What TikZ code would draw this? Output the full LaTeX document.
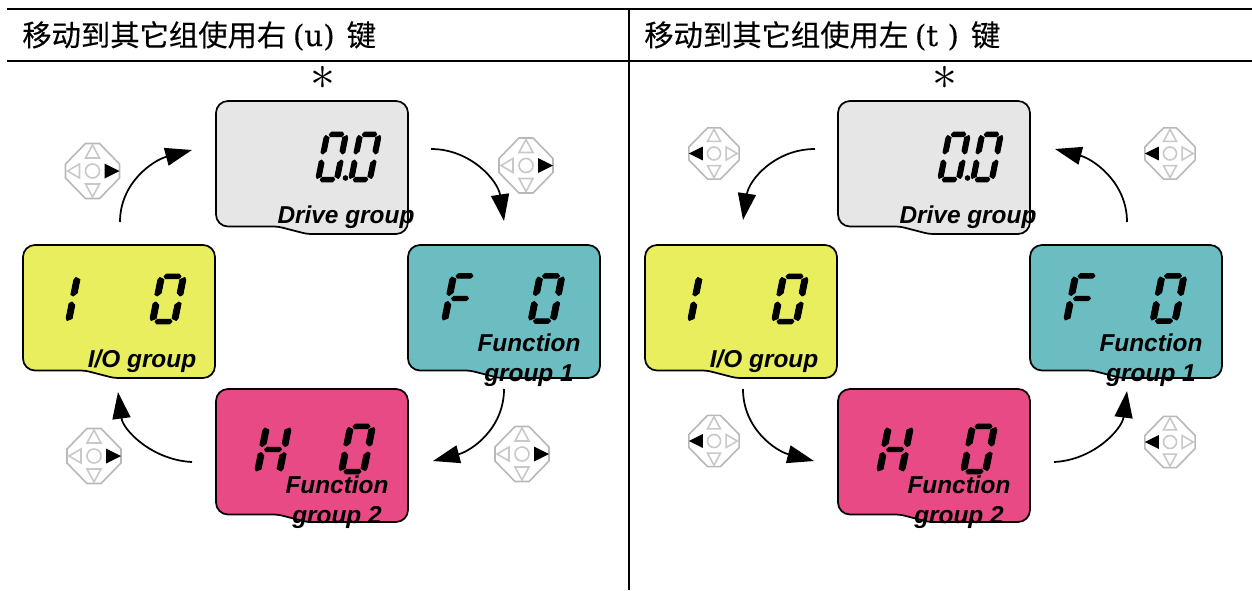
\documentclass[tikz,border=0pt]{standalone}
\usepackage{fontspec}
\usetikzlibrary{arrows.meta}
\setmainfont[FakeBold=0.3]{DejaVu Serif}
\newfontfamily\cjk[FakeBold=0.25]{Noto Sans CJK SC}
\newfontfamily\lab{Liberation Sans}
\definecolor{cDrive}{HTML}{E6E6E6}
\definecolor{cIO}{HTML}{E8EE5E}
\definecolor{cFuncA}{HTML}{6CBDC2}
\definecolor{cFuncB}{HTML}{E84A86}
\definecolor{cPad}{HTML}{B8B8B8}
\definecolor{cPadTri}{HTML}{C8C8C8}
\tikzset{
  rule/.style={line width=1.5pt,black},
  lcd/.style={draw=black,line width=1.3pt},
  grouplabel/.style={font=\lab\bfseries\itshape\fontsize{18.3pt}{22.5pt}\selectfont,align=center,inner sep=0pt,text=black},
  titletext/.style={anchor=base west,inner sep=0pt,font=\fontsize{22pt}{26pt}\selectfont},
  flow/.style={line width=1.3pt,-{Triangle[length=20pt,width=13.5pt]}},
  star/.style={inner sep=0pt,scale=1.5,anchor=base,font=\fontsize{24.88pt}{26pt}\selectfont},
  padline/.style={draw=cPad,line width=1.2pt},
  padtri/.style={draw=cPadTri,line width=1.2pt},
  seg/.style={fill=black,draw=black,line width=0.7pt,line join=round},
}
% seven segment parts (local px, y down)
\newcommand{\dA}{\path[seg] (-8.5,-22.5)--(-6.5,-24.8)--(6.5,-24.8)--(8.5,-22.5)--(6.5,-20.3)--(-6.5,-20.3)--cycle;}
\newcommand{\dD}{\path[seg] (-8.5,22.5)--(-6.5,24.8)--(6.5,24.8)--(8.5,22.5)--(6.5,20.3)--(-6.5,20.3)--cycle;}
\newcommand{\dG}{\path[seg] (-8.5,0)--(-6.5,-2.2)--(6.5,-2.2)--(8.5,0)--(6.5,2.2)--(-6.5,2.2)--cycle;}
\newcommand{\dV}[2]{\path[seg] (#1*14,#2*19)--(#1*12.5,#2*21.5)--(#1*8,#2*19.5)--(#1*8,#2*6)--(#1*11.5,#2*3)--(#1*14,#2*4.5)--cycle;}
\newcommand{\dF}{\dV{-1}{-1}}
\newcommand{\dE}{\dV{-1}{1}}
\newcommand{\dB}{\dV{1}{-1}}
\newcommand{\dC}{\dV{1}{1}}
\newcommand{\digit}[4]{\begin{scope}[shift={(#1,#2)},xslant=0.2,xscale=#3]#4\end{scope}}
\newcommand{\lcdbox}[3]{%
  \draw[lcd,fill=#3,shift={#2}] (0,60) [rounded corners=9pt] --(0,125.5) [rounded corners=3pt] --(62,125.5)--(91,133) [rounded corners=9pt] --(192,133)--(192,0)--(0,0)--cycle;}
\newcommand{\groups}[1]{%
  \lcdbox{#1d}{(216,101)}{cDrive}
  \lcdbox{#1f}{(408,245)}{cFuncA}
  \lcdbox{#1i}{(23,245)}{cIO}
  \lcdbox{#1h}{(216,389)}{cFuncB}
  \digit{332}{157}{0.85}{\dA\dB\dC\dD\dE\dF}
  \digit{365}{157}{0.85}{\dA\dB\dC\dD\dE\dF}
  \fill (345.5,178) circle (2.8);
  \digit{460}{298.5}{1}{\dA\dF\dE\dG}
  \digit{546.5}{298.5}{1}{\dA\dB\dC\dD\dE\dF}
  \digit{84}{299}{1}{\dF\dE}
  \digit{168}{299}{1}{\dA\dB\dC\dD\dE\dF}
  \digit{273}{449.5}{1}{\dF\dE\dB\dC\dG}
  \digit{357}{449}{1}{\dA\dB\dC\dD\dE\dF}
  \node[grouplabel] (#1dl) at (346,217) {Drive group};
  \node[grouplabel] (#1fl) at (529,360.5) {Function\\group 1};
  \node[grouplabel] (#1il) at (142,361) {I/O group};
  \node[grouplabel] (#1hl) at (337,502.5) {Function\\group 2};
  \node[star] (#1s) at (323,89) {\smash{$*$}};
}
% #1 x, #2 y, #3 scale, #4 side (1 right black, -1 left black)
\newcommand{\keypad}[4]{%
  \begin{scope}[shift={(#1,#2)},scale=#3]
    \draw[padline] (-7,-27.5)--(7,-27.5)--(27,-7)--(27,7)--(7,27.5)--(-7,27.5)--(-27,7)--(-27,-7)--cycle;
    \draw[padtri] (0,0) circle (7);
    \draw[padtri] (-7,-13)--(7,-13)--(0,-26)--cycle;
    \draw[padtri] (-7,13)--(7,13)--(0,26)--cycle;
    \draw[padtri] (-#4*13,-7)--(-#4*13,7)--(-#4*25,0)--cycle;
    \fill[black] (#4*12,-7.5)--(#4*12,7.5)--(#4*27,0)--cycle;
  \end{scope}}
\begin{document}
\begin{tikzpicture}[x=0.75pt,y=-0.75pt]
\useasboundingbox (0,0) rectangle (1252,590);
\coordinate (topL) at (7,9);
\coordinate (topR) at (1252,9);
\coordinate (subL) at (7,61);
\coordinate (subR) at (1252,61);
\coordinate (midT) at (629,9);
\coordinate (midB) at (629,590);
\draw[rule] (topL)--(topR);
\draw[rule] (subL)--(subR);
\draw[rule] (midT)--(midB);
\node[titletext] (titleL) at (22,46) {{\cjk 移动到其它组使用右}\hspace{5pt}(u)\hspace{9pt}{\cjk 键}};
\node[titletext] (titleR) at (644,46) {{\cjk 移动到其它组使用左}\hspace{5pt}(t )\hspace{9pt}{\cjk 键}};
\groups{l}
\begin{scope}[shift={(622,0)}]
\groups{r}
\end{scope}
\keypad{92.5}{171}{1}{1}
\keypad{526}{165.5}{1}{1}
\keypad{522}{454}{1}{1}
\keypad{94}{456}{1}{1}
\keypad{714}{153.5}{0.93}{-1}
\keypad{1170}{153.5}{0.93}{-1}
\keypad{714}{441}{0.93}{-1}
\keypad{1170}{442}{0.93}{-1}
% left panel connectors
\coordinate (a1s) at (120,222); \coordinate (a1e) at (192,150);
\coordinate (a2s) at (431,149); \coordinate (a2e) at (504,221);
\coordinate (a3s) at (504,389); \coordinate (a3e) at (433,461);
\coordinate (a4s) at (192,462); \coordinate (a4e) at (118,392);
\draw[flow] (a1s) .. controls +(0,-40) and +(-38,10) .. (a1e);
\draw[flow] (a2s) .. controls +(40,0) and +(-6,-40) .. (a2e);
\draw[flow] (a3s) .. controls +(0,40) and +(38,-10) .. (a3e);
\draw[flow] (a4s) .. controls +(-40,-2) and +(5,38) .. (a4e);
% right panel connectors
\coordinate (b1s) at (815,149); \coordinate (b1e) at (743,220);
\coordinate (b2s) at (1127,222); \coordinate (b2e) at (1055,149);
\coordinate (b3s) at (1054,462); \coordinate (b3e) at (1127,391);
\coordinate (b4s) at (743,389); \coordinate (b4e) at (814,461);
\draw[flow] (b1s) .. controls +(-40,0) and +(6,-40) .. (b1e);
\draw[flow] (b2s) .. controls +(0,-40) and +(38,10) .. (b2e);
\draw[flow] (b3s) .. controls +(40,-2) and +(-5,38) .. (b3e);
\draw[flow] (b4s) .. controls +(0,40) and +(-38,-10) .. (b4e);
\end{tikzpicture}
\end{document}
